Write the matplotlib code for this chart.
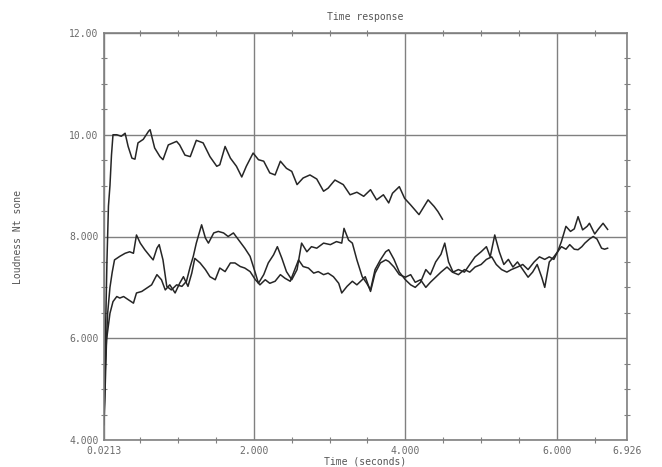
"""
Time response of loudness (three runs), drawn in the style of an old
plotter output: grey frame, grid at the major ticks, small inward ticks.
"""

import matplotlib
matplotlib.use('Agg')
import matplotlib.pyplot as plt
from matplotlib.ticker import MultipleLocator

# run 1 (upper curve, ends around 4.5 s)
t_a = [0.0213, 0.04, 0.06, 0.08, 0.10, 0.12, 0.14, 0.19, 0.25, 0.30, 0.34,
       0.39, 0.43, 0.47, 0.54, 0.61, 0.63, 0.69, 0.76, 0.80, 0.87, 0.98,
       1.02, 1.09, 1.16, 1.24, 1.33, 1.42, 1.51, 1.55, 1.62, 1.69, 1.77,
       1.84, 1.90, 1.99, 2.06, 2.13, 2.21, 2.28, 2.35, 2.43, 2.50, 2.57,
       2.65, 2.74, 2.83, 2.92, 2.98, 3.07, 3.18, 3.27, 3.36, 3.45, 3.54,
       3.62, 3.71, 3.78, 3.83, 3.92, 3.99, 4.07, 4.18, 4.30, 4.38, 4.43,
       4.49]
v_a = [4.40, 6.00, 7.50, 8.60, 9.00, 9.60, 10.00, 10.00, 9.97, 10.03, 9.77,
       9.54, 9.52, 9.84, 9.91, 10.07, 10.10, 9.74, 9.57, 9.51, 9.80, 9.87,
       9.80, 9.60, 9.57, 9.89, 9.84, 9.57, 9.38, 9.41, 9.77, 9.54, 9.38,
       9.17, 9.38, 9.64, 9.51, 9.48, 9.25, 9.21, 9.48, 9.34, 9.28, 9.02,
       9.15, 9.21, 9.13, 8.89, 8.95, 9.11, 9.02, 8.82, 8.87, 8.79, 8.92,
       8.72, 8.82, 8.66, 8.85, 8.98, 8.75, 8.62, 8.43, 8.72, 8.59, 8.49,
       8.34]

# run 2 (middle curve)
t_b = [0.0213, 0.04, 0.07, 0.10, 0.13, 0.16, 0.23, 0.30, 0.36, 0.41, 0.45,
       0.50, 0.56, 0.63, 0.67, 0.72, 0.75, 0.80, 0.85, 0.91, 0.98, 1.05,
       1.11, 1.16, 1.20, 1.24, 1.31, 1.36, 1.40, 1.47, 1.53, 1.60, 1.66,
       1.73, 1.80, 1.88, 1.95, 2.02, 2.06, 2.13, 2.19, 2.26, 2.31, 2.37,
       2.43, 2.50, 2.57, 2.63, 2.70, 2.76, 2.83, 2.92, 3.01, 3.09, 3.16,
       3.19, 3.25, 3.30, 3.36, 3.43, 3.49, 3.54, 3.60, 3.67, 3.74, 3.78,
       3.85, 3.92, 4.00, 4.07, 4.13, 4.20, 4.27, 4.33, 4.40, 4.47, 4.52,
       4.57, 4.63, 4.70, 4.78, 4.85, 4.92, 5.00, 5.07, 5.12, 5.18, 5.24,
       5.30, 5.36, 5.42, 5.48, 5.55, 5.62, 5.68, 5.74, 5.80, 5.84, 5.90,
       5.96, 6.01, 6.06, 6.12, 6.18, 6.23, 6.28, 6.34, 6.40, 6.43, 6.50,
       6.55, 6.61, 6.67]
v_b = [4.40, 5.50, 6.50, 7.00, 7.30, 7.54, 7.61, 7.67, 7.70, 7.67, 8.03,
       7.87, 7.74, 7.61, 7.54, 7.77, 7.84, 7.54, 7.02, 6.95, 7.05, 7.02,
       7.12, 7.41, 7.61, 7.87, 8.23, 7.97, 7.87, 8.07, 8.10, 8.07, 8.00,
       8.07, 7.93, 7.77, 7.61, 7.28, 7.08, 7.25, 7.48, 7.64, 7.80, 7.57,
       7.31, 7.15, 7.35, 7.87, 7.70, 7.80, 7.77, 7.87, 7.84, 7.90, 7.87,
       8.16, 7.93, 7.87, 7.54, 7.21, 7.08, 6.95, 7.35, 7.54, 7.70, 7.74,
       7.55, 7.30, 7.15, 7.05, 7.00, 7.10, 7.35, 7.25, 7.50, 7.65, 7.87,
       7.50, 7.30, 7.35, 7.30, 7.45, 7.60, 7.70, 7.80, 7.60, 8.03, 7.70,
       7.45, 7.55, 7.40, 7.50, 7.35, 7.20, 7.30, 7.45, 7.20, 7.00, 7.50,
       7.60, 7.70, 7.90, 8.20, 8.10, 8.15, 8.39, 8.13, 8.20, 8.26, 8.05,
       8.15, 8.26, 8.14]

# run 3 (lower curve)
t_c = [0.0213, 0.04, 0.055, 0.10, 0.14, 0.19, 0.23, 0.28, 0.34, 0.41, 0.45,
       0.52, 0.58, 0.65, 0.72, 0.78, 0.83, 0.89, 0.96, 1.02, 1.07, 1.13,
       1.18, 1.22, 1.29, 1.36, 1.42, 1.49, 1.55, 1.62, 1.69, 1.75, 1.82,
       1.88, 1.95, 2.02, 2.08, 2.15, 2.21, 2.28, 2.35, 2.41, 2.48, 2.54,
       2.59, 2.65, 2.72, 2.79, 2.85, 2.92, 2.98, 3.05, 3.12, 3.16, 3.23,
       3.30, 3.36, 3.43, 3.47, 3.54, 3.60, 3.67, 3.74, 3.78, 3.85, 3.92,
       4.00, 4.07, 4.13, 4.20, 4.27, 4.33, 4.40, 4.47, 4.55, 4.62, 4.70,
       4.78, 4.85, 4.92, 5.00, 5.07, 5.14, 5.20, 5.27, 5.34, 5.40, 5.48,
       5.55, 5.62, 5.70, 5.77, 5.84, 5.90, 5.96, 6.01, 6.06, 6.12, 6.17,
       6.23, 6.28, 6.33, 6.37, 6.43, 6.48, 6.53, 6.59, 6.63, 6.67]
v_c = [4.30, 5.20, 5.97, 6.49, 6.72, 6.82, 6.79, 6.82, 6.76, 6.69, 6.89,
       6.92, 6.98, 7.05, 7.25, 7.15, 6.95, 7.05, 6.89, 7.08, 7.21, 7.02,
       7.28, 7.57, 7.48, 7.35, 7.21, 7.15, 7.38, 7.31, 7.48, 7.48, 7.41,
       7.38, 7.31, 7.15, 7.05, 7.15, 7.08, 7.12, 7.25, 7.18, 7.12, 7.35,
       7.54, 7.41, 7.38, 7.28, 7.31, 7.25, 7.28, 7.21, 7.08, 6.89, 7.02,
       7.12, 7.05, 7.15, 7.21, 6.92, 7.28, 7.48, 7.54, 7.51, 7.40, 7.25,
       7.20, 7.25, 7.10, 7.15, 7.00, 7.10, 7.20, 7.30, 7.40, 7.30, 7.25,
       7.35, 7.30, 7.40, 7.45, 7.55, 7.60, 7.45, 7.35, 7.30, 7.35, 7.40,
       7.45, 7.35, 7.50, 7.60, 7.55, 7.60, 7.55, 7.70, 7.80, 7.75, 7.84,
       7.75, 7.74, 7.80, 7.87, 7.95, 8.00, 7.95, 7.77, 7.75, 7.77]

x_ticks = [0.0213, 2.0, 4.0, 6.0, 6.926]
x_labels = ['0.0213', '2.000', '4.000', '6.000', '6.926']
y_ticks = [4.0, 6.0, 8.0, 10.0, 12.0]
y_labels = ['4.000', '6.000', '8.000', '10.00', '12.00']

frame_col = '#808080'
text_col = '#6a6a6a'
mono = 'DejaVu Sans Mono'

fig = plt.figure(figsize=(6.62, 4.67), dpi=100)
ax = fig.add_axes([104 / 662, 1 - 440 / 467, 523 / 662, 407 / 467])

# the three runs
for t, v in [(t_a, v_a), (t_b, v_b), (t_c, v_c)]:
    ax.plot(t, v, color='#262626', linewidth=1.1)

ax.set_xlim(x_ticks[0], x_ticks[-1])
ax.set_ylim(y_ticks[0], y_ticks[-1])

# grid only at the major ticks
ax.set_xticks(x_ticks)
ax.set_xticklabels(x_labels)
ax.set_yticks(y_ticks)
ax.set_yticklabels(y_labels)
ax.grid(True, color=frame_col, linewidth=1.0)
ax.set_axisbelow(True)

# small ticks every half unit on all four sides
ax.xaxis.set_minor_locator(MultipleLocator(0.5))
ax.yaxis.set_minor_locator(MultipleLocator(0.5))
ax.tick_params(which='major', length=0, pad=4, labelsize=7,
               labelcolor=text_col)
ax.tick_params(which='minor', length=4, width=0.8, color=frame_col,
               direction='inout', top=True, right=True)
for lab in ax.get_xticklabels() + ax.get_yticklabels():
    lab.set_fontfamily(mono)

for s in ax.spines.values():
    s.set_color(frame_col)
    s.set_linewidth(1.2)

ax.set_title('Time response', fontsize=7, family=mono, color='#555555',
             pad=9)
ax.set_xlabel('Time (seconds)', fontsize=7, family=mono, color='#555555',
              labelpad=1)
ax.set_ylabel('Loudness Nt sone', fontsize=7, family=mono, color='#555555',
              labelpad=33)

fig.savefig('out.png', dpi=100)
